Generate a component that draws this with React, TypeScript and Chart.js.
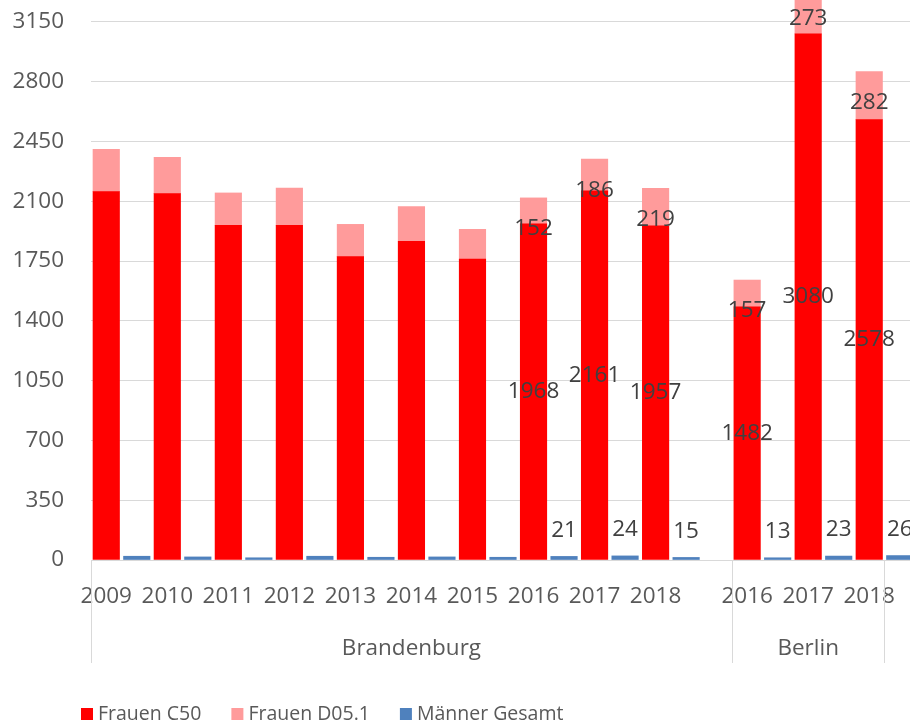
import { useEffect, useRef } from 'react';
import { Chart, registerables } from 'chart.js';

Chart.register(...registerables);

// ---- data ----
const groups = ['Brandenburg', 'Berlin'];
const groupYears = [
  [2009, 2010, 2011, 2012, 2013, 2014, 2015, 2016, 2017, 2018],
  [2016, 2017, 2018],
];
const frauenC50 = [2157, 2145, 1960, 1960, 1776, 1866, 1762, 1968, 2161, 1957, 1482, 3080, 2578];
const frauenD051 = [248, 213, 189, 218, 189, 203, 174, 152, 186, 219, 157, 273, 282];
const maennerGesamt = [22, 18, 13, 22, 16, 18, 16, 21, 24, 15, 13, 23, 26];
const showValue = [false, false, false, false, false, false, false, true, true, true, true, true, true];
const seriesNames = ['Frauen C50', 'Frauen D05.1', 'Männer Gesamt'];
const seriesColors = ['#FF0000', '#FF9B9B', '#4F81BD'];
const yTickValues = [0, 350, 700, 1050, 1400, 1750, 2100, 2450, 2800, 3150];
const yMax = 3278.6;

const FONT = '"Open Sans", "Noto Sans", sans-serif';
const AXIS_COLOR = '#595959';
const LABEL_COLOR = '#404040';
const GRID_COLOR = '#D9D9D9';

// Build slots: each year has a slot for the Frauen stack and one for Männer; spacer between groups
const slotLabels: string[] = [];
const c50Slots: (number | null)[] = [];
const d05Slots: (number | null)[] = [];
const mSlots: (number | null)[] = [];
const slotShow: boolean[] = [];
const groupInfo: { name: string; first: number; lastRed: number }[] = [];
{
  let k = 0;
  groups.forEach((g, gi) => {
    if (gi > 0) {
      slotLabels.push('');
      c50Slots.push(null);
      d05Slots.push(null);
      mSlots.push(null);
      slotShow.push(false);
    }
    const first = slotLabels.length;
    let lastRed = first;
    groupYears[gi].forEach((y) => {
      lastRed = slotLabels.length;
      slotLabels.push(String(y));
      c50Slots.push(frauenC50[k]);
      d05Slots.push(frauenD051[k]);
      mSlots.push(null);
      slotShow.push(showValue[k]);
      slotLabels.push('');
      c50Slots.push(null);
      d05Slots.push(null);
      mSlots.push(maennerGesamt[k]);
      slotShow.push(showValue[k]);
      k++;
    });
    groupInfo.push({ name: g, first, lastRed });
  });
}

const overlayPlugin = {
  id: 'overlay',
  afterDatasetsDraw(chart: any) {
    const ctx = chart.ctx;
    const x = chart.scales.x;
    const area = chart.chartArea;
    ctx.save();
    // value labels
    ctx.font = `22.5px ${FONT}`;
    ctx.fillStyle = LABEL_COLOR;
    ctx.textAlign = 'center';
    ctx.textBaseline = 'middle';
    chart.data.datasets.forEach((ds: any, di: number) => {
      const meta = chart.getDatasetMeta(di);
      meta.data.forEach((el: any, i: number) => {
        const v = ds.data[i];
        if (v == null || !slotShow[i]) return;
        let yy: number;
        if (di === 0) yy = (el.y + el.base) / 2;
        else if (di === 1) yy = el.y + 31;
        else yy = el.y - 26;
        ctx.fillText(String(v), el.x, yy);
      });
    });
    ctx.restore();

    // group separators and labels
    ctx.save();
    const bounds: number[] = groupInfo.map((g) => x.getPixelForValue(g.first - 0.5));
    bounds.push(x.getPixelForValue(groupInfo[groupInfo.length - 1].lastRed + 0.5));
    ctx.strokeStyle = GRID_COLOR;
    ctx.lineWidth = 1;
    bounds.forEach((b) => {
      const px = Math.round(b) + 0.5;
      ctx.beginPath();
      ctx.moveTo(px, area.bottom);
      ctx.lineTo(px, area.bottom + 103);
      ctx.stroke();
    });
    ctx.font = `22.5px ${FONT}`;
    ctx.fillStyle = AXIS_COLOR;
    ctx.textAlign = 'center';
    ctx.textBaseline = 'alphabetic';
    groupInfo.forEach((g, gi) => {
      const cx = (bounds[gi] + bounds[gi + 1]) / 2;
      ctx.fillText(g.name, cx, area.bottom + 95);
    });
    ctx.restore();

    // legend
    ctx.save();
    ctx.font = `19.5px ${FONT}`;
    ctx.textAlign = 'left';
    ctx.textBaseline = 'alphabetic';
    let lx = 81;
    chart.data.datasets.forEach((ds: any) => {
      ctx.fillStyle = ds.backgroundColor;
      ctx.fillRect(lx, 708, 12, 12);
      ctx.fillStyle = AXIS_COLOR;
      ctx.fillText(ds.label, lx + 17, 720);
      lx += 17 + ctx.measureText(ds.label).width + 30;
    });
    ctx.restore();
  },
};

export default function App() {
  const ref = useRef<HTMLCanvasElement>(null);
  useEffect(() => {
    if (!ref.current) return;
    const chart = new Chart(ref.current, {
      type: 'bar',
      data: {
        labels: slotLabels,
        datasets: [
          { label: seriesNames[0], data: c50Slots, backgroundColor: seriesColors[0], stack: 'f', grouped: false, barThickness: 26.5 } as any,
          { label: seriesNames[1], data: d05Slots, backgroundColor: seriesColors[1], stack: 'f', grouped: false, barThickness: 26.5 } as any,
          { label: seriesNames[2], data: mSlots, backgroundColor: seriesColors[2], stack: 'm', grouped: false, barThickness: 26.5 } as any,
        ],
      },
      options: {
        responsive: false,
        animation: false,
        events: [],
        layout: { padding: 0 },
        plugins: { legend: { display: false }, tooltip: { enabled: false } },
        scales: {
          x: {
            type: 'category',
            grid: { display: false, drawTicks: false },
            border: { display: false },
            ticks: {
              autoSkip: false,
              maxRotation: 0,
              minRotation: 0,
              padding: 23,
              color: AXIS_COLOR,
              font: { family: FONT, size: 22.5 },
            },
            afterFit: (s: any) => {
              s.height = 164;
              s.paddingLeft = 0;
              s.paddingRight = 0;
            },
          },
          y: {
            stacked: true,
            min: 0,
            max: yMax,
            grid: { color: GRID_COLOR, lineWidth: 1, drawTicks: false },
            border: { display: false },
            ticks: {
              padding: 27,
              color: AXIS_COLOR,
              font: { family: FONT, size: 22.5 },
              callback: (v: any) => String(v),
            },
            afterBuildTicks: (s: any) => {
              s.ticks = yTickValues.map((v) => ({ value: v }));
            },
            afterFit: (s: any) => {
              s.width = 91;
              s.paddingTop = 0;
              s.paddingBottom = 0;
            },
          },
        },
      },
      plugins: [overlayPlugin],
    });
    return () => chart.destroy();
  }, []);
  return (
    <div style={{ position: 'fixed', left: 0, top: 0, width: 910, height: 724, overflow: 'hidden', background: '#fff' }}>
      <canvas ref={ref} width={915} height={724} style={{ display: 'block' }} />
    </div>
  );
}
